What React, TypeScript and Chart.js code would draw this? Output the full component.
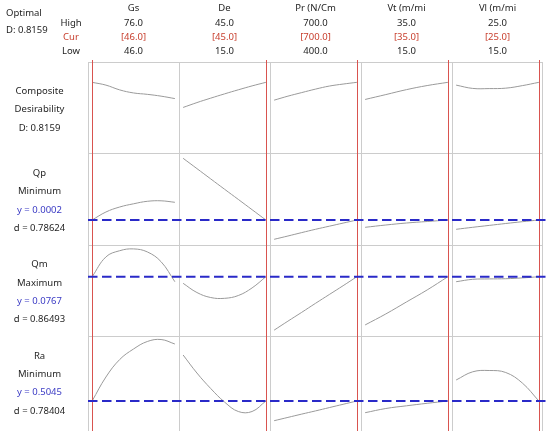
import { useEffect, useRef } from 'react';
import { Chart, registerables } from 'chart.js';

Chart.register(...registerables);

// ---- factors (columns) ----
const factorNames = ['Gs', 'De', 'Pr (N/Cm', 'Vt (m/mi', 'Vl (m/mi'];
const factorHigh = [76, 45, 700, 35, 25];
const factorCur = [46, 45, 700, 35, 25];
const factorLow = [46, 15, 400, 15, 15];

// factor levels at which curves are read
const gsLevels = [46, 51, 56, 61, 66, 71, 76];
const deLevels = [15, 20, 25, 30, 35, 40, 45];
const prLevels = [400, 450, 500, 550, 600, 650, 700];
const vtLevels = [15, 20, 25, 30, 35];
const vlLevels = [15, 17, 19, 21, 23, 25];

// ---- composite desirability ----
const compGs = [0.816, 0.784, 0.729, 0.694, 0.678, 0.657, 0.629];
const compDe = [0.527, 0.583, 0.634, 0.683, 0.73, 0.775, 0.816];
const compPr = [0.611, 0.657, 0.698, 0.738, 0.773, 0.796, 0.816];
const compVt = [0.619, 0.675, 0.732, 0.779, 0.816];
const compVl = [0.784, 0.746, 0.744, 0.749, 0.778, 0.816];

// ---- Qp ----
const qpGs = [0.0002, 0.001, 0.0015, 0.00182, 0.00207, 0.00212, 0.00197];
const qpDe = [0.00637, 0.00534, 0.00431, 0.00328, 0.00226, 0.00123, 0.0002];
const qpPr = [-0.00173, -0.0014, -0.00106, -0.00073, -0.00042, -0.00011, 0.0002];
const qpVt = [-0.00053, -0.0003, -0.0001, 0.00005, 0.0002];
const qpVl = [-0.00073, -0.00053, -0.00034, -0.00015, 0.00003, 0.0002];

// ---- Qm ----
const qmGs = [0.0767, 0.0866, 0.0897, 0.0906, 0.0891, 0.0842, 0.0742];
const qmDe = [0.0734, 0.0688, 0.0663, 0.0659, 0.0673, 0.0711, 0.0767];
const qmPr = [0.05, 0.0545, 0.0589, 0.0634, 0.0678, 0.0722, 0.0767];
const qmVt = [0.0526, 0.0581, 0.0641, 0.0701, 0.0767];
const qmVl = [0.0742, 0.0754, 0.0756, 0.0757, 0.0761, 0.0767];

// ---- Ra ----
const raGs = [0.5045, 0.6245, 0.712, 0.7645, 0.802, 0.812, 0.7895];
const raDe = [0.7345, 0.6445, 0.567, 0.4995, 0.452, 0.452, 0.5045];
const raPr = [0.406, 0.4225, 0.439, 0.455, 0.4715, 0.488, 0.5045];
const raVt = [0.446, 0.467, 0.4805, 0.493, 0.5045];
const raVl = [0.6095, 0.6505, 0.657, 0.647, 0.5945, 0.5045];

// ---- responses (rows) ----
const responseNames = ['Qp', 'Qm', 'Ra'];
const responseGoals = ['Minimum', 'Maximum', 'Minimum'];
const responseY = [0.0002, 0.0767, 0.5045];
const responseYText = ['0.0002', '0.0767', '0.5045'];
const responseD = ['0.78624', '0.86493', '0.78404'];
const compositeD = '0.8159';

// row axis ranges (composite, Qp, Qm, Ra)
const rowMin = [0, -0.00225, 0.0472, 0.3745];
const rowMax = [1.05, 0.006875, 0.0928, 0.8308];

const W = 550;
const H = 431;
const FONT = '"Noto Sans", "Open Sans", sans-serif';

export default function App() {
  const ref = useRef<HTMLCanvasElement>(null);

  useEffect(() => {
    document.body.style.margin = '0';
    const canvas = ref.current;
    if (!canvas) return;

    const xIds = ['xGs', 'xDe', 'xPr', 'xVt', 'xVl'];
    const yIds = ['yD', 'yQp', 'yQm', 'yRa'];
    const levels = [gsLevels, deLevels, prLevels, vtLevels, vlLevels];
    const rows = [
      [compGs, compDe, compPr, compVt, compVl],
      [qpGs, qpDe, qpPr, qpVt, qpVl],
      [qmGs, qmDe, qmPr, qmVt, qmVl],
      [raGs, raDe, raPr, raVt, raVl],
    ];

    const datasets: any[] = [];
    rows.forEach((row, r) =>
      row.forEach((vals, c) =>
        datasets.push({
          data: levels[c].map((x, i) => ({ x, y: vals[i] })),
          xAxisID: xIds[c],
          yAxisID: yIds[r],
          borderColor: '#9a9a9a',
          borderWidth: 1,
          pointRadius: 0,
          tension: 0.4,
          fill: false,
        })
      )
    );

    const scales: any = {};
    xIds.forEach((id, c) => {
      const lo = factorLow[c];
      const hi = factorHigh[c];
      const pad = (hi - lo) * 0.05;
      scales[id] = {
        type: 'linear',
        position: 'bottom',
        stack: 'cols',
        stackWeight: 1,
        weight: c + 1,
        display: false,
        min: lo - pad,
        max: hi + pad,
      };
    });
    yIds.forEach((id, r) => {
      scales[id] = {
        type: 'linear',
        position: 'left',
        stack: 'rows',
        stackWeight: 1,
        weight: 4 - r,
        display: false,
        min: rowMin[r],
        max: rowMax[r],
      };
    });

    const overlay = {
      id: 'overlay',
      beforeDatasetsDraw(chart: any) {
        const { ctx, chartArea: a } = chart;
        ctx.save();
        ctx.strokeStyle = '#cccccc';
        ctx.lineWidth = 1;
        ctx.beginPath();
        xIds.forEach((id) => {
          const s = chart.scales[id];
          const x = Math.round(s.left) + 0.5;
          ctx.moveTo(x, a.top);
          ctx.lineTo(x, H);
        });
        const xr = Math.round(a.right) - 0.5;
        ctx.moveTo(xr, a.top);
        ctx.lineTo(xr, H);
        yIds.forEach((id) => {
          const s = chart.scales[id];
          const y = Math.round(s.top) + 0.5;
          ctx.moveTo(a.left, y);
          ctx.lineTo(a.right, y);
        });
        ctx.stroke();
        ctx.restore();
      },
      afterDatasetsDraw(chart: any) {
        const { ctx, chartArea: a } = chart;
        ctx.save();
        // current settings (red)
        ctx.strokeStyle = '#d9534f';
        ctx.lineWidth = 1;
        ctx.beginPath();
        xIds.forEach((id, c) => {
          const x = Math.round(chart.scales[id].getPixelForValue(factorCur[c])) + 0.5;
          ctx.moveTo(x, a.top - 2);
          ctx.lineTo(x, H);
        });
        ctx.stroke();
        // optimal response (blue dashed)
        ctx.strokeStyle = '#2a2ac8';
        ctx.lineWidth = 2;
        ctx.setLineDash([9.5, 4.5]);
        responseY.forEach((v, i) => {
          const y = chart.scales[yIds[i + 1]].getPixelForValue(v);
          ctx.beginPath();
          ctx.moveTo(a.left, y);
          ctx.lineTo(a.right + 3, y);
          ctx.stroke();
        });
        ctx.restore();
      },
      afterDraw(chart: any) {
        const { ctx, chartArea: a } = chart;
        ctx.save();
        ctx.font = `9.5px ${FONT}`;
        ctx.textBaseline = 'middle';
        const black = '#1e1e1e';
        const red = '#c8402f';
        const blue = '#3a3ac4';
        // top-left
        ctx.textAlign = 'left';
        ctx.fillStyle = black;
        ctx.fillText('Optimal', 6, 13);
        ctx.fillText(`D: ${compositeD}`, 6, 30);
        ctx.textAlign = 'center';
        ctx.fillText('High', 71, 23);
        ctx.fillStyle = red;
        ctx.fillText('Cur', 71, 37);
        ctx.fillStyle = black;
        ctx.fillText('Low', 71, 51);
        // column headers
        xIds.forEach((id, c) => {
          const s = chart.scales[id];
          const cx = (s.left + s.right) / 2;
          ctx.fillStyle = black;
          ctx.fillText(factorNames[c], cx, 8);
          ctx.fillText(factorHigh[c].toFixed(1), cx, 23);
          ctx.fillStyle = red;
          ctx.fillText(`[${factorCur[c].toFixed(1)}]`, cx, 37);
          ctx.fillStyle = black;
          ctx.fillText(factorLow[c].toFixed(1), cx, 51);
        });
        // row labels
        const lx = 39.5;
        const gap = 18.3;
        const s0 = chart.scales[yIds[0]];
        const m0 = (s0.top + s0.bottom) / 2 + 2;
        ctx.fillStyle = black;
        ctx.fillText('Composite', lx, m0 - gap);
        ctx.fillText('Desirability', lx, m0);
        ctx.fillText(`D: ${compositeD}`, lx, m0 + gap);
        responseNames.forEach((name, i) => {
          const s = chart.scales[yIds[i + 1]];
          const m = (s.top + s.bottom) / 2 + 2;
          ctx.fillStyle = black;
          ctx.fillText(name, lx, m - 1.5 * gap);
          ctx.fillText(responseGoals[i], lx, m - 0.5 * gap);
          ctx.fillStyle = blue;
          ctx.fillText(`y = ${responseYText[i]}`, lx, m + 0.5 * gap);
          ctx.fillStyle = black;
          ctx.fillText(`d = ${responseD[i]}`, lx, m + 1.5 * gap);
        });
        ctx.restore();
      },
    };

    const chart = new Chart(canvas, {
      type: 'line',
      data: { datasets },
      options: {
        animation: false,
        responsive: false,
        maintainAspectRatio: false,
        devicePixelRatio: 1,
        layout: { padding: { left: 88, top: 62, right: 7, bottom: 4 } },
        plugins: { legend: { display: false }, tooltip: { enabled: false }, title: { display: false } },
        scales,
      },
      plugins: [overlay],
    } as any);

    return () => chart.destroy();
  }, []);

  return (
    <div style={{ width: W, height: H, background: '#fff' }}>
      <canvas ref={ref} width={W} height={H} style={{ display: 'block' }} />
    </div>
  );
}
